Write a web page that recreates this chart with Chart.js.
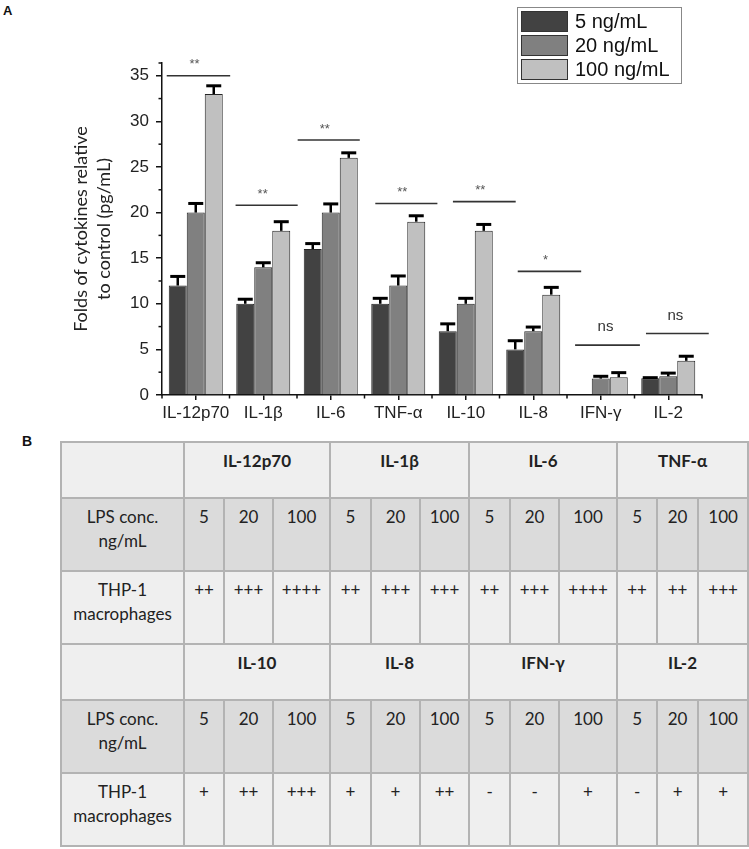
<!DOCTYPE html>
<html>
<head>
<meta charset="utf-8">
<script src="https://cdn.jsdelivr.net/npm/chart.js@4.4.1/dist/chart.umd.min.js"></script>
<style>
body { margin: 0; background: #fff; width: 749px; height: 849px; position: relative; overflow: hidden; }
#wrap { position: absolute; left: 0; top: 0; width: 749px; height: 430px; }
.panel { position: absolute; font: bold 13px "Liberation Sans", Arial, sans-serif; color: #111; }
table { position: absolute; left: 60px; top: 441px; width: 687px; border-collapse: collapse; table-layout: fixed;
        font: 17px Lato, sans-serif; color: #222; }
td { border: 2px solid #b3b3b3; text-align: center; vertical-align: top; padding: 6px 0 0 0; line-height: 24px;
     background: #efefef; overflow: hidden; white-space: nowrap; }
tr.conc td { background: #dbdbdb; }
tr.head td { font-weight: bold; }
</style>
</head>
<body>
<div class="panel" style="left:3px;top:3px">A</div>
<div class="panel" style="left:22px;top:433px;font-size:14px">B</div>
<div id="wrap"><canvas id="cytoCht" width="749" height="430"></canvas></div>
<table id="tbl"></table>
<script>
// cytokines on the x axis
const cytokines = ['IL-12p70', 'IL-1β', 'IL-6', 'TNF-α', 'IL-10', 'IL-8', 'IFN-γ', 'IL-2'];
const seriesNames = ['5 ng/mL', '20 ng/mL', '100 ng/mL'];

// bar heights (folds vs control)
const conc5 = [12, 10, 16, 10, 7, 5, null, 1.85];
const conc20 = [20, 14, 20, 12, 10, 7, 1.8, 2.05];
const conc100 = [33, 18, 26, 19, 18, 11, 1.95, 3.75];

// top of the error bars
const err5 = [13, 10.5, 16.6, 10.6, 7.8, 5.95, null, 1.9];
const err20 = [21, 14.5, 20.95, 13.05, 10.6, 7.45, 2.05, 2.4];
const err100 = [33.9, 19, 26.55, 19.65, 18.7, 11.8, 2.45, 4.25];

// significance lines: value height, start / end in category units, label
const sigLevel = [35, 20.8, 27.95, 21, 21.2, 13.55, 5.47, 6.75];
const sigFrom = [-0.43, 0.59, 1.51, 2.66, 3.81, 4.77, 5.62, 6.67];
const sigTo = [0.51, 1.51, 2.43, 3.58, 4.74, 5.71, 6.58, 7.6];
const sigText = ['**', '**', '**', '**', '**', '*', 'ns', 'ns'];

const yTicks = [0, 5, 10, 15, 20, 25, 30, 35];

// table B
const tableTop = ['IL-12p70', 'IL-1β', 'IL-6', 'TNF-α'];
const tableBottom = ['IL-10', 'IL-8', 'IFN-γ', 'IL-2'];
const lpsConc = ['5', '20', '100'];
const thpTop = ['++', '+++', '++++', '++', '+++', '+++', '++', '+++', '++++', '++', '++', '+++'];
const thpBottom = ['+', '++', '+++', '+', '+', '++', '-', '-', '+', '-', '+', '+'];

// build the table
const colW = [123, 40, 49, 57, 41, 49, 49, 41, 49, 58, 40, 41, 50];
let html = '<colgroup>' + colW.map(w => '<col style="width:' + w + 'px">').join('') + '</colgroup>';
function block(names, scores) {
    let h = '<tr class="head" style="height:56px"><td></td>' +
        names.map(n => '<td colspan="3">' + n + '</td>').join('') + '</tr>';
    h += '<tr class="conc" style="height:73px"><td>LPS conc.<br>ng/mL</td>';
    names.forEach(() => { lpsConc.forEach(c => { h += '<td>' + c + '</td>'; }); });
    h += '</tr><tr style="height:73px"><td>THP-1<br>macrophages</td>' +
        scores.map(s => '<td>' + s + '</td>').join('') + '</tr>';
    return h;
}
html += block(tableTop, thpTop) + block(tableBottom, thpBottom);
document.getElementById('tbl').innerHTML = html;

const fills = ['#424242', '#808080', '#c0c0c0'];
const errs = [err5, err20, err100];

const extras = {
    id: 'extras',
    afterDatasetsDraw(chart) {
        const c = chart.ctx;
        const x = chart.scales.x, y = chart.scales.y;
        c.save();
        // error bars
        c.strokeStyle = '#000';
        chart.data.datasets.forEach((ds, d) => {
            chart.getDatasetMeta(d).data.forEach((bar, i) => {
                const e = errs[d][i];
                if (e == null || ds.data[i] == null) return;
                const ey = y.getPixelForValue(e);
                c.lineWidth = 2.5;
                c.beginPath(); c.moveTo(bar.x, bar.y); c.lineTo(bar.x, ey); c.stroke();
                c.lineWidth = 3;
                c.beginPath(); c.moveTo(bar.x - 7.5, ey); c.lineTo(bar.x + 7.5, ey); c.stroke();
            });
        });
        // significance
        c.strokeStyle = '#333';
        c.lineWidth = 1.6;
        c.textAlign = 'center';
        c.textBaseline = 'middle';
        sigLevel.forEach((lv, i) => {
            const py = y.getPixelForValue(lv);
            const x0 = x.getPixelForValue(sigFrom[i]), x1 = x.getPixelForValue(sigTo[i]);
            c.beginPath(); c.moveTo(x0, py); c.lineTo(x1, py); c.stroke();
            const mx = (x0 + x1) / 2;
            if (sigText[i] === 'ns') {
                c.fillStyle = '#333';
                c.font = '15px "Liberation Sans", Arial';
                c.fillText('ns', mx - 2, py - 18);
            } else {
                c.fillStyle = '#555';
                c.font = '13px "Liberation Sans", Arial';
                c.fillText(sigText[i], mx - 4, py - 11);
            }
        });
        // minor ticks
        c.strokeStyle = '#111';
        c.lineWidth = 1.5;
        for (let v = 2.5; v < y.max; v += 5) {
            const py = y.getPixelForValue(v);
            c.beginPath(); c.moveTo(y.right - 3.5, py); c.lineTo(y.right, py); c.stroke();
        }
        const pt = y.getPixelForValue(y.max);
        c.beginPath(); c.moveTo(y.right - 3.5, pt); c.lineTo(y.right, pt); c.stroke();
        for (let i = 0; i <= cytokines.length; i++) {
            const px = x.getPixelForValue(i - 0.5);
            c.beginPath(); c.moveTo(px, x.top); c.lineTo(px, x.top + 3.5); c.stroke();
        }
        // legend box
        c.fillStyle = '#fff';
        c.strokeStyle = '#888';
        c.lineWidth = 1;
        c.fillRect(517.5, 7.5, 164, 76);
        c.strokeRect(517.5, 7.5, 164, 76);
        c.font = '20px "Liberation Sans", Arial';
        c.textAlign = 'left';
        chart.data.datasets.forEach((ds, d) => {
            const top = 11 + d * 24;
            c.fillStyle = ds.backgroundColor;
            c.fillRect(521, top, 47, 21);
            c.strokeStyle = '#333';
            c.strokeRect(521.5, top + 0.5, 46, 20);
            c.fillStyle = '#111';
            c.fillText(ds.label, 575, top + 11);
        });
        c.restore();
    }
};

const ctx = document.getElementById('cytoCht');
const cytoChart = new Chart(ctx, {
    type: 'bar',
    data: {
        labels: cytokines,
        datasets: [conc5, conc20, conc100].map((vals, d) => ({
            label: seriesNames[d],
            data: vals,
            backgroundColor: fills[d],
            borderColor: '#262626',
            borderWidth: 1,
            categoryPercentage: 0.8,
            barPercentage: 1
        }))
    },
    options: {
        responsive: false,
        animation: false,
        layout: { padding: { top: 63, right: 47, left: 0, bottom: 0 } },
        plugins: { legend: { display: false }, tooltip: { enabled: false } },
        scales: {
            x: {
                grid: { drawOnChartArea: false, offset: false, tickLength: 5, color: '#111', lineWidth: 1.5 },
                border: { color: '#111', width: 1.5 },
                ticks: { font: { family: 'Liberation Sans', size: 17 }, color: '#222', padding: 3, maxRotation: 0, autoSkip: false },
                afterFit(s) { s.height = 35; }
            },
            y: {
                min: 0,
                max: 36.4,
                afterBuildTicks(s) { s.ticks = yTicks.map(v => ({ value: v })); },
                grid: { drawOnChartArea: false, tickLength: 6, color: '#111', lineWidth: 1.5 },
                border: { color: '#111', width: 1.5 },
                ticks: { font: { family: 'Liberation Sans', size: 17 }, color: '#222', padding: 7 },
                title: {
                    display: true,
                    text: ['Folds of cytokines relative', 'to control (pg/mL)'],
                    font: { family: 'Lato', size: 18, lineHeight: 1.28 },
                    color: '#222',
                    padding: { top: 70, bottom: 0 }
                },
                afterFit(s) { s.width = 162; }
            }
        }
    },
    plugins: [extras]
});
</script>
</body>
</html>
